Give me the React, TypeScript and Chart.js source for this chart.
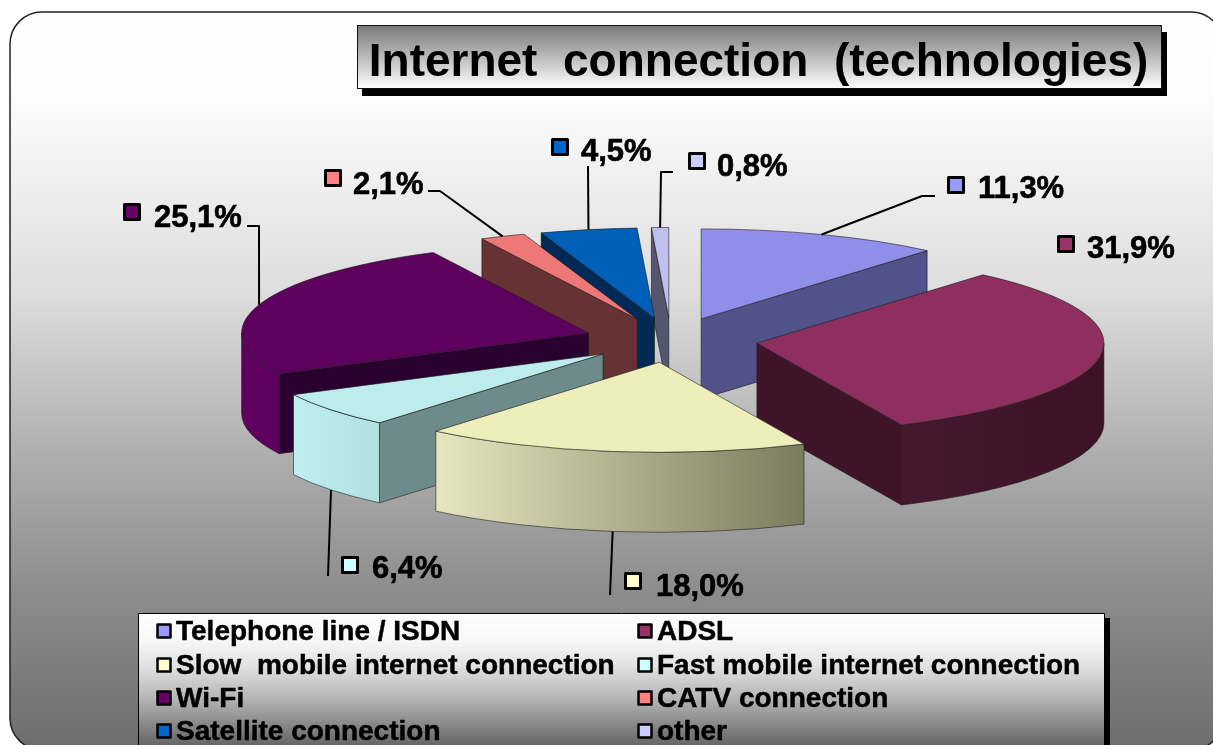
import React, { useEffect, useRef } from "react";
import { Chart, registerables } from "chart.js";

Chart.register(...registerables);

const TITLE = "Internet  connection  (technologies)";
const categories = [
  "Telephone line / ISDN",
  "ADSL",
  "Slow  mobile internet connection",
  "Fast mobile internet connection",
  "Wi-Fi",
  "CATV connection",
  "Satellite connection",
  "other",
];
const shares = [11.3, 31.9, 18.0, 6.4, 25.1, 2.1, 4.5, 0.8];

const topColors = ["#8f8fe9", "#8f2f5f", "#eeeebb", "#bcecec", "#5e005e", "#ee7777", "#0060b8", "#c0c0ee"];
const keyColors = ["#9999ff", "#993366", "#ffffcc", "#ccffff", "#660066", "#ff8080", "#0066cc", "#ccccff"];
const wallLeft = ["#52528a", "#45182f", "#e6e6bf", "#c0eeee", "#5e005e", "#673233", "#002a55", "#55556f"];
const wallRight = ["#52528a", "#3c1226", "#7b7b5e", "#b0e0e0", "#5e005e", "#673233", "#002a55", "#55556f"];
const cutColors = ["#52528a", "#3f1428", "#8a8a6a", "#6e8b8b", "#2a0030", "#673233", "#002a55", "#55556f"];

// Tilted-disc geometry of the exploded pie
const CENTER_X = 671;
const CENTER_Y = 340;
const RADIUS_X = 347;
const RADIUS_Y = 90;
const DEPTH = 80;
const EXPLODE = 0.25;

// Callout placement: key square, text start, and the elbows of the leader line
const keyX = [956, 1066, 633, 350, 132, 333, 560, 697];
const keyY = [185, 244, 581, 565, 212, 178, 147, 161];
const textX = [978, 1087, 656, 372, 154, 353, 581, 717];
const textY = [189, 249, 587, 569, 218, 185, 152, 167];
const leaders: number[][][] = [
  [[922, 196], [935, 196]],
  [],
  [[610, 595]],
  [[328, 576]],
  [[259, 226], [247, 226]],
  [[440, 191], [428, 191]],
  [[588, 166]],
  [[661, 172], [673, 172]],
];

const LEGEND_ROW_Y = [631, 665, 698, 731];
const LEGEND_COL_X = [157, 638];

function stops(g: CanvasGradient, list: [number, string][]) {
  list.forEach(([p, c]) => g.addColorStop(p, c));
  return g;
}

function apexOf(a: any) {
  const mid = (a.startAngle + a.endAngle) / 2;
  return {
    x: CENTER_X + EXPLODE * RADIUS_X * Math.cos(mid),
    y: CENTER_Y + EXPLODE * RADIUS_Y * Math.sin(mid),
  };
}

// Paints the page panel and the title plate behind everything else
const panelPlugin = {
  id: "panel",
  beforeDraw(chart: any) {
    const ctx: CanvasRenderingContext2D = chart.ctx;
    ctx.save();
    ctx.fillStyle = "#ffffff";
    ctx.fillRect(0, 0, chart.width, chart.height);
    ctx.beginPath();
    ctx.roundRect(10, 12, 1213, 738, 32);
    ctx.fillStyle = stops(ctx.createLinearGradient(0, 12, 0, 745), [
      [0, "#ffffff"],
      [0.12, "#fcfcfc"],
      [0.39, "#dcdcdc"],
      [0.61, "#adadad"],
      [0.8, "#8b8b8b"],
      [1, "#6e6e6e"],
    ]);
    ctx.fill();
    ctx.strokeStyle = "#222222";
    ctx.lineWidth = 1.5;
    ctx.stroke();

    ctx.fillStyle = "#000000";
    ctx.fillRect(362, 32, 805, 64);
    ctx.fillStyle = stops(ctx.createLinearGradient(0, 25, 0, 89), [
      [0, "#777777"],
      [1, "#ffffff"],
    ]);
    ctx.fillRect(357.5, 25.5, 804, 63);
    ctx.strokeStyle = "#111111";
    ctx.lineWidth = 1;
    ctx.strokeRect(357.5, 25.5, 804, 63);
    ctx.restore();
  },
};

// Draws each slice as an extruded wedge, back to front, using the arc elements
const extrudedPiePlugin = {
  id: "extrudedPie",
  beforeDatasetsDraw(chart: any) {
    const ctx: CanvasRenderingContext2D = chart.ctx;
    const arcs: any[] = chart.getDatasetMeta(0).data;
    const order = arcs.map((_, i) => i).sort((p, q) => apexOf(arcs[p]).y - apexOf(arcs[q]).y);
    ctx.save();
    ctx.lineWidth = 1;
    ctx.strokeStyle = "rgba(30,30,30,0.6)";
    for (const i of order) {
      const a = arcs[i];
      const apex = apexOf(a);
      const { startAngle: s, endAngle: e } = a;
      const edge = (t: number) => [apex.x + RADIUS_X * Math.cos(t), apex.y + RADIUS_Y * Math.sin(t)];

      const cutFace = (t: number) => {
        const [x, y] = edge(t);
        ctx.beginPath();
        ctx.moveTo(apex.x, apex.y);
        ctx.lineTo(x, y);
        ctx.lineTo(x, y + DEPTH);
        ctx.lineTo(apex.x, apex.y + DEPTH);
        ctx.closePath();
        ctx.fillStyle = cutColors[i];
        ctx.fill();
        ctx.stroke();
      };
      if (Math.cos(s) < 0) cutFace(s);
      if (Math.cos(e) > 0) cutFace(e);

      const from = Math.max(s, 0);
      const to = Math.min(e, Math.PI);
      if (to > from) {
        const g = ctx.createLinearGradient(edge(to)[0], 0, edge(from)[0], 0);
        g.addColorStop(0, wallLeft[i]);
        g.addColorStop(1, wallRight[i]);
        ctx.beginPath();
        ctx.ellipse(apex.x, apex.y, RADIUS_X, RADIUS_Y, 0, from, to);
        ctx.ellipse(apex.x, apex.y + DEPTH, RADIUS_X, RADIUS_Y, 0, to, from, true);
        ctx.closePath();
        ctx.fillStyle = g;
        ctx.fill();
        ctx.stroke();
      }

      ctx.save();
      ctx.translate(apex.x, apex.y);
      ctx.scale(RADIUS_X / a.outerRadius, RADIUS_Y / a.outerRadius);
      ctx.translate(-a.x, -a.y);
      a.draw(ctx);
      ctx.restore();

      ctx.beginPath();
      ctx.moveTo(apex.x, apex.y);
      ctx.ellipse(apex.x, apex.y, RADIUS_X, RADIUS_Y, 0, s, e);
      ctx.closePath();
      ctx.stroke();
    }
    ctx.restore();
    return false;
  },
};

function keySquare(ctx: CanvasRenderingContext2D, cx: number, cy: number, size: number, line: number, color: string) {
  ctx.fillStyle = color;
  ctx.strokeStyle = "#000000";
  ctx.lineWidth = line;
  ctx.fillRect(cx - size / 2, cy - size / 2, size, size);
  ctx.strokeRect(cx - size / 2, cy - size / 2, size, size);
}

// Value callouts with leader lines, then the two-column legend plate
const annotationPlugin = {
  id: "annotations",
  afterDraw(chart: any) {
    const ctx: CanvasRenderingContext2D = chart.ctx;
    const arcs: any[] = chart.getDatasetMeta(0).data;
    ctx.save();
    ctx.textBaseline = "middle";
    ctx.textAlign = "left";
    ctx.lineJoin = "round";

    shares.forEach((v, i) => {
      const a = arcs[i];
      const apex = apexOf(a);
      const mid = (a.startAngle + a.endAngle) / 2;
      if (leaders[i].length) {
        ctx.beginPath();
        ctx.moveTo(
          apex.x + RADIUS_X * Math.cos(mid),
          apex.y + RADIUS_Y * Math.sin(mid) + (Math.sin(mid) > 0 ? DEPTH : 0)
        );
        leaders[i].forEach(([x, y]) => ctx.lineTo(x, y));
        ctx.strokeStyle = "#000000";
        ctx.lineWidth = 2;
        ctx.stroke();
      }
      keySquare(ctx, keyX[i], keyY[i], 15, 3, keyColors[i]);
      const text = v.toFixed(1).replace(".", ",") + "%";
      ctx.fillStyle = "#000000";
      ctx.strokeStyle = "#000000";
      ctx.lineWidth = 0.6;
      ctx.font = 'bold 31px "Liberation Sans"';
      ctx.fillText(text, textX[i], textY[i]);
      ctx.strokeText(text, textX[i], textY[i]);
    });

    ctx.fillStyle = "#000000";
    ctx.fillRect(1104, 618, 6, 140);
    ctx.fillStyle = stops(ctx.createLinearGradient(0, 613, 0, 745), [
      [0, "#ffffff"],
      [0.2, "#f8f8f8"],
      [0.4, "#e2e2e2"],
      [0.65, "#b4b4b4"],
      [0.9, "#7c7c7c"],
      [1, "#666666"],
    ]);
    ctx.fillRect(138.5, 613.5, 966, 140);
    ctx.strokeStyle = "#000000";
    ctx.lineWidth = 1;
    ctx.strokeRect(138.5, 613.5, 966, 140);

    categories.forEach((name, i) => {
      const col = i % 2;
      const y = LEGEND_ROW_Y[Math.floor(i / 2)];
      keySquare(ctx, LEGEND_COL_X[col] + 7, y, 13, 2.5, keyColors[i]);
      ctx.fillStyle = "#000000";
      ctx.strokeStyle = "#000000";
      ctx.lineWidth = 0.5;
      ctx.font = 'bold 28px "Liberation Sans"';
      ctx.fillText(name, LEGEND_COL_X[col] + 19, y + 1);
      ctx.strokeText(name, LEGEND_COL_X[col] + 19, y + 1);
    });
    ctx.restore();
  },
};

export default function App() {
  const ref = useRef<HTMLCanvasElement>(null);
  useEffect(() => {
    document.body.style.margin = "0";
    document.documentElement.style.overflow = "hidden";
    const chart = new Chart(ref.current!, {
      type: "pie",
      data: {
        labels: categories,
        datasets: [{ data: shares, backgroundColor: topColors, borderWidth: 0 }],
      },
      options: {
        responsive: false,
        animation: false,
        events: [],
        layout: { padding: { left: 304, top: 36 } },
        plugins: {
          legend: { display: false },
          tooltip: { enabled: false },
          title: {
            display: true,
            text: TITLE,
            fullSize: false,
            color: "#000000",
            font: { family: '"Liberation Sans"', size: 46, weight: "bold", lineHeight: 1.2 },
            padding: 0,
          },
        },
      },
      plugins: [panelPlugin, extrudedPiePlugin, annotationPlugin],
    } as any);
    return () => chart.destroy();
  }, []);
  return <canvas ref={ref} width={1213} height={745} style={{ display: "block" }} />;
}
